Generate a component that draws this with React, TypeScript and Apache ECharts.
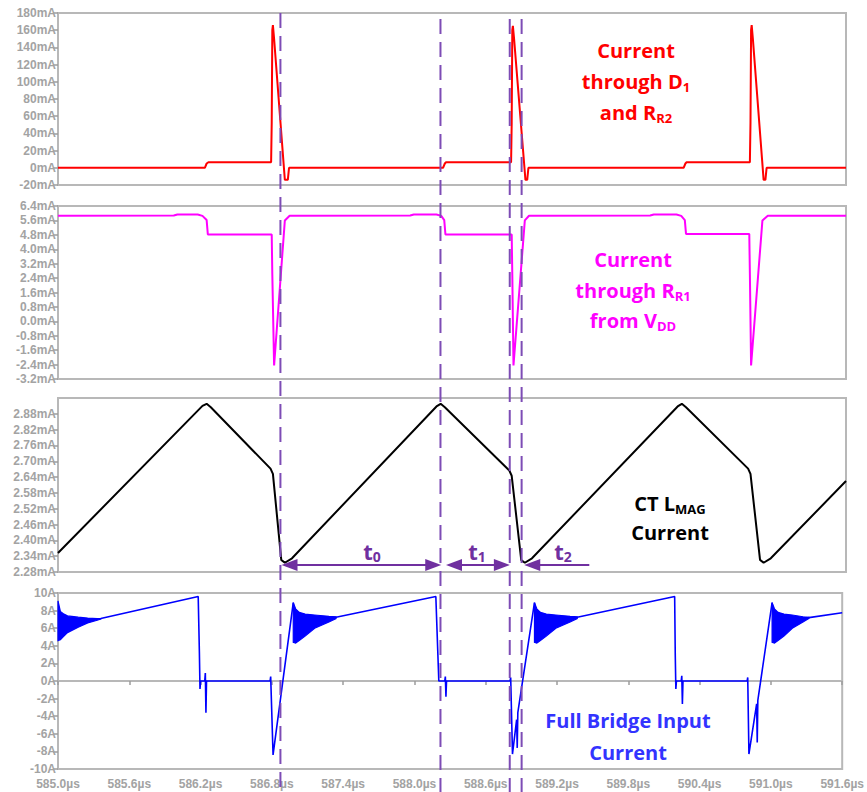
import React, { useEffect, useRef } from 'react';
import * as echarts from 'echarts';

// ---------- axes ----------
const X_MIN = 585.0;
const X_MAX = 591.6;
const X_STEP = 0.6;

const Y1 = { min: -20, max: 180, step: 20 };
const Y2 = { min: -3.2, max: 6.4, step: 0.8 };
const Y3 = { min: 2.28, max: 2.94, step: 0.06 };
const Y3_TICKS = [2.28, 2.34, 2.4, 2.46, 2.52, 2.58, 2.64, 2.7, 2.76, 2.82, 2.88];
const Y4 = { min: -10, max: 10, step: 2 };

// ---------- panel 1: current through D1 and RR2 (mA) ----------
const d1Current: [number, number][] = [
  [585.0, 0], [586.23, 0], [586.245, 5], [586.26, 6.5], [586.785, 6.5], [586.79, 52], [586.795, 160],
  [586.8, 166], [586.81, 150], [586.9, -14], [586.925, -14], [586.935, 0],
  [588.225, 0], [588.24, 5], [588.25, 6.5], [588.795, 6.5], [588.8, 52], [588.805, 160], [588.81, 165],
  [588.82, 150], [588.915, -14], [588.93, -14], [588.94, 0],
  [590.24, 0], [590.255, 5], [590.265, 6.5], [590.795, 6.5], [590.8, 52], [590.805, 160], [590.81, 166],
  [590.82, 150], [590.91, -14], [590.925, -14], [590.935, 0], [591.6, 0],
];

// ---------- panel 2: current through RR1 from VDD (mA) ----------
const rr1Current: [number, number][] = [
  [585.0, 5.86], [585.97, 5.87], [586.0, 5.93], [586.17, 5.93], [586.21, 5.85], [586.245, 5.62],
  [586.255, 4.82], [586.79, 4.82], [586.795, 2.6], [586.81, -2.45], [586.9, 5.6], [586.94, 5.86],
  [587.95, 5.87], [587.98, 5.93], [588.17, 5.93], [588.21, 5.85], [588.235, 5.62], [588.245, 4.82],
  [588.8, 4.82], [588.805, 2.6], [588.815, -2.45], [588.91, 5.6], [588.945, 5.86],
  [589.96, 5.87], [589.99, 5.93], [590.18, 5.93], [590.22, 5.85], [590.25, 5.62], [590.26, 4.85],
  [590.79, 4.85], [590.795, 2.6], [590.805, -2.45], [590.9, 5.6], [590.945, 5.86], [591.6, 5.86],
];

// ---------- panel 3: CT LMAG current (mA) ----------
const lmagCurrent: [number, number][] = [
  [585.0, 2.352], [586.21, 2.91], [586.245, 2.918], [586.28, 2.905], [586.78, 2.672], [586.8, 2.652],
  [586.87, 2.326], [586.9, 2.315], [586.96, 2.332],
  [588.17, 2.908], [588.205, 2.918], [588.24, 2.905], [588.78, 2.665], [588.8, 2.645],
  [588.88, 2.325], [588.91, 2.315], [588.97, 2.332],
  [590.19, 2.908], [590.225, 2.918], [590.26, 2.905], [590.78, 2.672], [590.8, 2.652],
  [590.88, 2.326], [590.91, 2.315], [590.97, 2.332], [591.6, 2.625],
];

// ---------- panel 4: full bridge input current (A) ----------
const bridgeCurrent: [number, number][] = [
  [585.0, 6.8], [585.36, 7.1], [586.18, 9.6], [586.19, 3.2], [586.195, -0.9], [586.2, 0],
  [586.235, 0], [586.24, 0.9], [586.245, -3.6], [586.25, 0], [586.785, 0], [586.79, 0.5],
  [586.81, -8.4], [586.98, 8.9], [587.0, 6.6], [587.34, 7.25],
  [588.18, 9.6], [588.205, 0], [588.255, 0], [588.26, 0.5], [588.265, -1.8], [588.27, 0],
  [588.805, 0], [588.81, 0.4], [588.825, -8.3], [588.86, -4.4], [588.865, -7.6], [588.87, -3.6],
  [589.01, 8.9], [589.03, 6.6], [589.37, 7.25],
  [590.19, 9.6], [590.195, 3.0], [590.2, -0.9], [590.205, 0], [590.245, 0], [590.25, 0.6],
  [590.255, -2.6], [590.26, 0], [590.8, 0], [590.805, 0.4], [590.815, -8.3], [590.88, -2.6],
  [590.885, -7.0], [590.89, -2.2], [591.01, 8.9], [591.03, 6.6], [591.32, 7.2], [591.6, 7.75],
];

// ringing envelopes: [time, upper, lower]
const ring0: [number, number, number][] = [
  [585.0, 9.1, 4.6], [585.02, 7.9, 4.7], [585.05, 7.6, 5.1], [585.08, 7.4, 5.5], [585.17, 7.25, 6.1],
  [585.25, 7.15, 6.6], [585.33, 7.1, 6.9], [585.36, 7.1, 7.05],
];
const ring1: [number, number, number][] = [
  [586.98, 8.9, 4.4], [587.0, 8.2, 4.3], [587.03, 7.8, 4.6], [587.08, 7.6, 5.1], [587.16, 7.5, 6.0],
  [587.28, 7.35, 6.7], [587.34, 7.3, 7.1],
];
const ring2: [number, number, number][] = [
  [589.01, 8.9, 4.4], [589.03, 8.2, 4.3], [589.06, 7.8, 4.6], [589.11, 7.6, 5.1], [589.19, 7.5, 6.0],
  [589.31, 7.35, 6.7], [589.37, 7.3, 7.1],
];
const ring3: [number, number, number][] = [
  [591.01, 8.9, 4.4], [591.03, 8.2, 4.3], [591.06, 7.8, 4.6], [591.11, 7.6, 5.1], [591.18, 7.5, 6.0],
  [591.27, 7.3, 6.7], [591.32, 7.25, 7.1],
];
const ringBands = [ring0, ring1, ring2, ring3];

// ---------- markers ----------
const cursorTimes = [586.872, 588.219, 588.802, 588.902];
const cursorTops = [13, 19, 19, 19];
const intervalArrows = [
  { from: 586.872, to: 588.21, both: true, sub: '0', labelT: 587.63 },
  { from: 588.25, to: 588.785, both: true, sub: '1', labelT: 588.51 },
  { from: 588.905, to: 589.45, both: false, sub: '2', labelT: 589.23 },
];
const ARROW_LEVEL = 2.307;
const ARROW_LABEL_LEVEL = 2.36;

const GRAY_LABEL = '#a3a3a3';
const GRAY_LINE = '#b8b8b8';
const PURPLE = '#7030a0';
const CURSOR = '#7d4cb5';
const ANNO_FONT = 'Open Sans';

const grids = [
  { left: 58, right: 21, top: 13, height: 172 },
  { left: 58, right: 21, top: 206, height: 173 },
  { left: 58, right: 21, top: 398, height: 174 },
  { left: 58, right: 21, top: 593, height: 176 },
];

function yAxis(gridIndex: number, r: { min: number; max: number; step: number }, fmt: (v: number) => string, extra: any = {}) {
  return {
    type: 'value',
    gridIndex,
    min: r.min,
    max: r.max,
    interval: r.step,
    splitLine: { show: false },
    axisLine: { show: true, lineStyle: { color: GRAY_LINE, width: 2 } },
    axisTick: { show: true, length: 5, lineStyle: { color: '#9c9c9c', width: 1.5 }, ...(extra.tick || {}) },
    axisLabel: {
      color: GRAY_LABEL,
      fontSize: 12,
      fontWeight: 'bold',
      fontFamily: 'Liberation Sans',
      margin: 2,
      formatter: fmt,
      ...(extra.label || {}),
    },
  };
}

function xAxis(gridIndex: number, showLabels: boolean) {
  return {
    type: 'value',
    gridIndex,
    min: X_MIN,
    max: X_MAX,
    interval: X_STEP,
    splitLine: { show: false },
    axisLine: { show: showLabels, lineStyle: { color: GRAY_LINE, width: 2 } },
    axisTick: { show: showLabels, length: 4, lineStyle: { color: '#9c9c9c', width: 1.5 } },
    axisLabel: {
      show: showLabels,
      color: GRAY_LABEL,
      fontSize: 12,
      fontWeight: 'bold',
      fontFamily: 'Liberation Sans',
      margin: 9,
      formatter: (v: number) => v.toFixed(1) + 'µs',
    },
  };
}

function lineSeries(i: number, data: [number, number][], color: string, width: number) {
  return {
    type: 'line',
    xAxisIndex: i,
    yAxisIndex: i,
    data,
    showSymbol: false,
    symbol: 'none',
    lineStyle: { color, width },
    silent: true,
    z: 3,
  };
}

function richLine(x: number, y: number, color: string, text: string, size = 20) {
  const sub = Math.round(size * 0.65);
  return {
    type: 'text',
    x,
    y,
    z: 120,
    silent: true,
    style: {
      text,
      align: 'center',
      verticalAlign: 'middle',
      textAlign: 'center',
      textVerticalAlign: 'middle',
      fill: color,
      font: `bold ${size}px "${ANNO_FONT}"`,
      rich: {
        m: { fill: color, font: `bold ${size}px "${ANNO_FONT}"`, fontFamily: ANNO_FONT, fontWeight: 'bold', fontSize: size },
        s: { fill: color, font: `bold ${sub}px "${ANNO_FONT}"`, fontFamily: ANNO_FONT, fontWeight: 'bold', fontSize: sub, padding: [12, 0, 0, 0] },
      },
    },
  };
}

export default function App() {
  const ref = useRef<HTMLDivElement>(null);

  useEffect(() => {
    document.body.style.margin = '0';
    const chart = echarts.init(ref.current!, null, { renderer: 'svg' });

    const option: any = {
      animation: false,
      backgroundColor: '#ffffff',
      grid: grids.map((g) => ({ ...g, show: true, borderColor: GRAY_LINE, borderWidth: 2, containLabel: false })),
      xAxis: [xAxis(0, false), xAxis(1, false), xAxis(2, false), xAxis(3, true)],
      yAxis: [
        yAxis(0, Y1, (v: number) => Math.round(v) + 'mA'),
        yAxis(1, Y2, (v: number) => v.toFixed(1) + 'mA'),
        yAxis(2, Y3, (v: number) => v.toFixed(2) + 'mA', {
          tick: { customValues: Y3_TICKS },
          label: { customValues: Y3_TICKS },
        }),
        yAxis(3, Y4, (v: number) => Math.round(v) + 'A'),
      ],
      series: [
        lineSeries(0, d1Current, '#ff0000', 2),
        lineSeries(1, rr1Current, '#ff00ff', 2),
        lineSeries(2, lmagCurrent, '#000000', 2),
        lineSeries(3, bridgeCurrent, '#0000ff', 1.6),
        {
          type: 'custom',
          xAxisIndex: 3,
          yAxisIndex: 3,
          silent: true,
          z: 3,
          data: ringBands.map((b) => [b[0][0], b[0][1]]),
          renderItem: (params: any, api: any) => {
            const band = ringBands[params.dataIndex];
            const up = band.map((p) => api.coord([p[0], p[1]]));
            const lo = band.slice().reverse().map((p) => api.coord([p[0], p[2]]));
            return {
              type: 'polygon',
              shape: { points: up.concat(lo) },
              style: { fill: '#0000ff', stroke: '#0000ff', lineWidth: 1.2 },
            };
          },
        },
      ],
    };
    chart.setOption(option);

    const graphics: any[] = [];
    cursorTimes.forEach((t, i) => {
      const p = chart.convertToPixel({ gridIndex: 3 }, [t, 0]) as number[];
      graphics.push({
        type: 'line',
        z: 110,
        silent: true,
        shape: { x1: p[0], y1: cursorTops[i], x2: p[0], y2: 792 },
        style: { stroke: CURSOR, lineWidth: 2, lineDash: [15, 8] },
      });
    });
    const L = 16;
    const H = 6;
    intervalArrows.forEach((a) => {
      const p1 = chart.convertToPixel({ gridIndex: 2 }, [a.from, ARROW_LEVEL]) as number[];
      const p2 = chart.convertToPixel({ gridIndex: 2 }, [a.to, ARROW_LEVEL]) as number[];
      const y = p1[1];
      graphics.push({
        type: 'line',
        z: 115,
        silent: true,
        shape: { x1: p1[0] + 4, y1: y, x2: a.both ? p2[0] - 4 : p2[0], y2: y },
        style: { stroke: PURPLE, lineWidth: 2 },
      });
      graphics.push({
        type: 'polygon',
        z: 115,
        silent: true,
        shape: { points: [[p1[0], y], [p1[0] + L, y - H], [p1[0] + L, y + H]] },
        style: { fill: PURPLE },
      });
      if (a.both) {
        graphics.push({
          type: 'polygon',
          z: 115,
          silent: true,
          shape: { points: [[p2[0], y], [p2[0] - L, y - H], [p2[0] - L, y + H]] },
          style: { fill: PURPLE },
        });
      }
      const lp = chart.convertToPixel({ gridIndex: 2 }, [a.labelT, ARROW_LABEL_LEVEL]) as number[];
      graphics.push(richLine(lp[0], lp[1], PURPLE, '{m|t}{s|' + a.sub + '}', 22));
    });

    const RED = '#ff0000';
    const MAG = '#ff00ff';
    const BLUE = '#3333ff';
    graphics.push(richLine(636, 50, RED, '{m|Current}'));
    graphics.push(richLine(636, 81, RED, '{m|through D}{s|1}'));
    graphics.push(richLine(636, 112, RED, '{m|and R}{s|R2}'));
    graphics.push(richLine(633, 259, MAG, '{m|Current}'));
    graphics.push(richLine(633, 290, MAG, '{m|through R}{s|R1}'));
    graphics.push(richLine(633, 320, MAG, '{m|from V}{s|DD}'));
    graphics.push(richLine(670, 503, '#000000', '{m|CT L}{s|MAG}'));
    graphics.push(richLine(670, 532, '#000000', '{m|Current}'));
    graphics.push(richLine(628, 720, BLUE, '{m|Full Bridge Input}'));
    graphics.push(richLine(628, 752, BLUE, '{m|Current}'));

    chart.setOption({ graphic: graphics });

    return () => {
      chart.dispose();
    };
  }, []);

  return <div ref={ref} style={{ width: 867, height: 792 }} />;
}
